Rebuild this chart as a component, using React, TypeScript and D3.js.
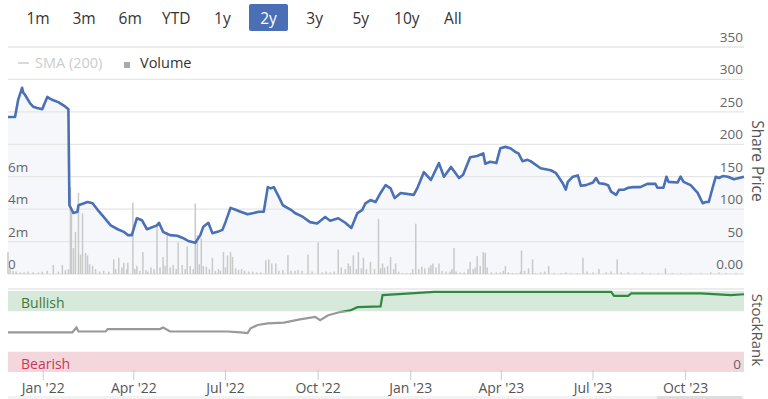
import * as d3 from "d3";
import React from "react";

const ranges = ["1m", "3m", "6m", "YTD", "1y", "2y", "3y", "5y", "10y", "All"];
const selectedRange = "2y";

const priceTicks = [0, 50, 100, 150, 200, 250, 300, 350];
const volumeTicks = [0, 2e6, 4e6, 6e6];
const dateTicks = ["2022-01-01", "2022-04-01", "2022-07-01", "2022-10-01", "2023-01-01", "2023-04-01", "2023-07-01", "2023-10-01"];

// share price
const priceDates = [
  "2021-11-27", "2021-12-04", "2021-12-07", "2021-12-11", "2021-12-12", "2021-12-14", "2021-12-19", "2021-12-22", "2021-12-26", "2021-12-31",
  "2022-01-05", "2022-01-08", "2022-01-11", "2022-01-16", "2022-01-23", "2022-01-26", "2022-01-27", "2022-01-31", "2022-02-04", "2022-02-05",
  "2022-02-14", "2022-02-19", "2022-02-24", "2022-03-02", "2022-03-09", "2022-03-16", "2022-03-22", "2022-03-26", "2022-03-30", "2022-04-04",
  "2022-04-09", "2022-04-14", "2022-04-24", "2022-04-26", "2022-04-30", "2022-05-07", "2022-05-14", "2022-05-19", "2022-05-25", "2022-05-30",
  "2022-06-01", "2022-06-06", "2022-06-09", "2022-06-14", "2022-06-18", "2022-06-23", "2022-06-28", "2022-07-01", "2022-07-06", "2022-07-11",
  "2022-07-16", "2022-07-23", "2022-07-29", "2022-08-03", "2022-08-08", "2022-08-12", "2022-08-15", "2022-08-18", "2022-08-22", "2022-08-27",
  "2022-09-04", "2022-09-08", "2022-09-16", "2022-09-23", "2022-09-30", "2022-10-08", "2022-10-13", "2022-10-21", "2022-10-28", "2022-11-03",
  "2022-11-09", "2022-11-14", "2022-11-17", "2022-11-22", "2022-11-27", "2022-12-02", "2022-12-07", "2022-12-12", "2022-12-16", "2022-12-22",
  "2023-01-04", "2023-01-08", "2023-01-14", "2023-01-21", "2023-01-29", "2023-02-03", "2023-02-10", "2023-02-18", "2023-02-22", "2023-03-01",
  "2023-03-08", "2023-03-14", "2023-03-16", "2023-03-21", "2023-03-27", "2023-03-31", "2023-04-05", "2023-04-10", "2023-04-15", "2023-04-18",
  "2023-04-22", "2023-04-27", "2023-04-30", "2023-05-10", "2023-05-20", "2023-05-25", "2023-06-01", "2023-06-04", "2023-06-06", "2023-06-11",
  "2023-06-16", "2023-06-19", "2023-06-24", "2023-07-01", "2023-07-04", "2023-07-07", "2023-07-12", "2023-07-16", "2023-07-19", "2023-07-24",
  "2023-07-27", "2023-08-01", "2023-08-05", "2023-08-10", "2023-08-17", "2023-08-24", "2023-09-01", "2023-09-03", "2023-09-09", "2023-09-12",
  "2023-09-14", "2023-09-23", "2023-09-26", "2023-09-29", "2023-10-06", "2023-10-13", "2023-10-18", "2023-10-21", "2023-10-24", "2023-10-28",
  "2023-10-31", "2023-11-03", "2023-11-07", "2023-11-12", "2023-11-18", "2023-11-23", "2023-11-28",
];
const priceValues = [
  242, 242, 268, 287, 280, 276, 263, 258, 256, 254,
  273, 270, 268, 265, 258, 254, 106, 94, 96, 106,
  111, 109, 99, 88, 75, 69, 65, 60, 60, 86,
  83, 69, 75, 79, 65, 60, 59, 56, 51, 49,
  48, 60, 73, 79, 63, 65, 68, 80, 102, 99,
  96, 92, 94, 96, 96, 134, 132, 134, 122, 106,
  99, 94, 88, 80, 78, 88, 82, 86, 79, 71,
  94, 99, 109, 114, 111, 125, 137, 132, 117, 125,
  122, 134, 157, 145, 171, 150, 165, 148, 153, 180,
  182, 186, 170, 173, 171, 194, 196, 194, 188, 186,
  174, 176, 174, 163, 160, 156, 140, 130, 142, 150,
  152, 136, 137, 141, 148, 140, 139, 137, 127, 122,
  130, 130, 133, 134, 134, 139, 139, 133, 133, 150,
  142, 141, 150, 142, 137, 125, 109, 111, 111, 134,
  150, 148, 151, 150, 146, 148, 150,
];

// daily volume spikes (millions of shares)
const volumeDates = [
  "2021-11-27", "2021-11-29", "2021-12-02", "2021-12-05", "2021-12-09", "2021-12-13", "2021-12-17", "2021-12-22", "2021-12-27", "2021-12-31",
  "2022-01-05", "2022-01-11", "2022-01-16", "2022-01-20", "2022-01-23", "2022-01-26", "2022-01-28", "2022-01-29", "2022-01-31", "2022-02-02",
  "2022-02-05", "2022-02-07", "2022-02-09", "2022-02-12", "2022-02-14", "2022-02-16", "2022-02-19", "2022-02-22", "2022-02-26", "2022-03-02",
  "2022-03-07", "2022-03-12", "2022-03-14", "2022-03-17", "2022-03-20", "2022-03-22", "2022-03-25", "2022-03-26", "2022-03-31", "2022-04-02",
  "2022-04-04", "2022-04-07", "2022-04-10", "2022-04-13", "2022-04-15", "2022-04-18", "2022-04-21", "2022-04-24", "2022-04-27", "2022-04-30",
  "2022-05-02", "2022-05-04", "2022-05-07", "2022-05-10", "2022-05-13", "2022-05-15", "2022-05-19", "2022-05-22", "2022-05-24", "2022-05-27",
  "2022-05-30", "2022-06-01", "2022-06-03", "2022-06-05", "2022-06-07", "2022-06-09", "2022-06-12", "2022-06-15", "2022-06-18", "2022-06-21",
  "2022-06-24", "2022-06-26", "2022-06-29", "2022-07-01", "2022-07-03", "2022-07-06", "2022-07-08", "2022-07-11", "2022-07-14", "2022-07-17",
  "2022-07-20", "2022-07-24", "2022-07-28", "2022-08-01", "2022-08-05", "2022-08-10", "2022-08-13", "2022-08-16", "2022-08-20", "2022-08-23",
  "2022-08-27", "2022-09-01", "2022-09-04", "2022-09-08", "2022-09-11", "2022-09-15", "2022-09-21", "2022-09-25", "2022-10-01", "2022-10-05",
  "2022-10-09", "2022-10-13", "2022-10-17", "2022-10-21", "2022-10-24", "2022-10-28", "2022-10-31", "2022-11-02", "2022-11-05", "2022-11-08",
  "2022-11-10", "2022-11-13", "2022-11-15", "2022-11-18", "2022-11-22", "2022-11-26", "2022-11-30", "2022-12-02", "2022-12-04", "2022-12-06",
  "2022-12-09", "2022-12-12", "2022-12-15", "2022-12-17", "2022-12-20", "2022-12-24", "2022-12-28", "2023-01-01", "2023-01-03", "2023-01-06",
  "2023-01-09", "2023-01-12", "2023-01-15", "2023-01-19", "2023-01-21", "2023-01-23", "2023-01-26", "2023-01-29", "2023-02-01", "2023-02-05",
  "2023-02-09", "2023-02-11", "2023-02-13", "2023-02-15", "2023-02-19", "2023-02-23", "2023-02-27", "2023-03-01", "2023-03-04", "2023-03-06",
  "2023-03-08", "2023-03-11", "2023-03-14", "2023-03-16", "2023-03-18", "2023-03-22", "2023-03-27", "2023-03-31", "2023-04-03", "2023-04-05",
  "2023-04-08", "2023-04-12", "2023-04-16", "2023-04-20", "2023-04-21", "2023-04-24", "2023-04-28", "2023-05-02", "2023-05-05", "2023-05-10",
  "2023-05-14", "2023-05-18", "2023-05-23", "2023-05-30", "2023-06-04", "2023-06-09", "2023-06-15", "2023-06-21", "2023-06-25", "2023-07-01",
  "2023-07-07", "2023-07-14", "2023-07-19", "2023-07-25", "2023-07-29", "2023-08-05", "2023-08-12", "2023-08-19", "2023-08-27", "2023-09-04",
  "2023-09-11", "2023-09-18", "2023-09-26", "2023-10-06", "2023-10-16", "2023-10-26", "2023-11-03", "2023-11-10", "2023-11-20",
];
const volumeValues = [
  1.35, 0.3, 0.2, 0.15, 0.1, 0.1, 0.15, 0.1, 0.1, 0.15,
  0.2, 0.55, 0.15, 0.55, 0.25, 0.3, 5.35, 3.8, 1.6, 2.6,
  5.0, 1.2, 3.75, 1.3, 1.15, 0.6, 0.5, 0.3, 0.15, 0.2,
  0.15, 0.9, 0.3, 1.0, 0.4, 0.7, 0.3, 0.7, 4.4, 0.3,
  0.5, 0.2, 1.35, 0.25, 0.15, 0.4, 0.3, 3.1, 0.4, 1.05,
  0.5, 2.6, 0.4, 0.55, 0.3, 1.95, 0.55, 0.3, 1.7, 0.5,
  0.3, 4.35, 2.4, 0.6, 2.2, 0.5, 0.45, 0.3, 1.0, 0.2,
  0.3, 0.2, 1.35, 0.4, 1.15, 1.35, 1.05, 0.35, 0.25, 0.3,
  0.2, 0.15, 0.15, 0.1, 0.1, 0.85, 0.9, 0.65, 0.65, 0.2,
  0.25, 1.15, 0.2, 0.2, 0.25, 0.2, 1.2, 0.15, 1.95, 0.1,
  0.15, 0.1, 0.15, 1.5, 0.4, 0.3, 0.65, 0.5, 1.15, 0.3,
  1.35, 0.35, 1.0, 0.3, 0.75, 0.3, 3.4, 0.35, 0.65, 0.4,
  0.5, 1.05, 0.3, 0.65, 0.15, 0.05, 0.05, 0.05, 0.3, 3.1,
  0.3, 0.45, 0.35, 0.4, 0.55, 0.65, 0.4, 0.65, 0.2, 0.15,
  0.15, 0.3, 1.6, 0.15, 0.1, 0.1, 0.3, 0.75, 0.3, 0.4,
  1.1, 0.5, 1.35, 1.3, 0.4, 0.1, 0.1, 0.1, 0.2, 0.5,
  0.1, 0.05, 0.05, 0.15, 1.45, 0.2, 0.35, 0.9, 0.05, 0.1,
  0.15, 0.5, 0.05, 0.05, 0.1, 0.05, 0.05, 1.0, 0.15, 0.1,
  0.3, 0.1, 0.15, 0.9, 0.1, 0.1, 0.05, 0.1, 0.05, 0.05,
  0.35, 0.05, 0.05, 0.05, 0.05, 0.1, 0.1, 0.05, 0.05,
];

// StockRank
const rankDates = [
  "2021-11-27", "2022-01-30", "2022-02-03", "2022-02-05", "2022-03-04", "2022-03-06", "2022-04-27", "2022-04-30", "2022-05-07", "2022-07-03",
  "2022-07-16", "2022-07-23", "2022-07-26", "2022-08-02", "2022-08-12", "2022-08-28", "2022-09-13", "2022-09-28", "2022-10-03", "2022-10-11",
  "2022-10-23", "2022-11-02", "2022-11-09", "2022-12-02", "2022-12-04", "2023-01-01", "2023-01-24", "2023-07-19", "2023-07-22", "2023-08-05",
  "2023-08-08", "2023-10-16", "2023-11-15", "2023-11-28",
];
const rankValues = [
  49, 49, 55, 50, 50, 53, 53, 55, 50, 50,
  49, 48, 54, 58, 60, 61, 65, 68, 64, 70,
  74, 76, 80, 81, 95, 97, 99, 99, 94, 94,
  97, 97, 95, 96,
];

const bandBearish = [0, 25];
const bandBullish = [75, 100];

const W = 768;
const H = 399;
const left = 8;
const right = 744;
const pTop = 47;
const pBottom = 274;
const rTop = 291;
const rBottom = 372;

export default function App() {
  const parse = d3.timeParse("%Y-%m-%d");
  const x = d3.scaleTime().domain([parse("2021-11-27")!, parse("2023-11-28")!]).range([left, right]);
  const yPrice = d3.scaleLinear().domain([0, 350]).range([pBottom, pTop]);
  const yVol = d3.scaleLinear().domain([0, 14e6]).range([pBottom, pTop]);
  const yRank = d3.scaleLinear().domain([0, 100]).range([rBottom, rTop]);

  const price = priceDates.map((d, i) => ({ date: parse(d)!, v: priceValues[i] }));
  const vols = volumeDates.map((d, i) => ({ date: parse(d)!, v: volumeValues[i] * 1e6 }));
  const rank = rankDates.map((d, i) => ({ date: parse(d)!, v: rankValues[i] }));

  const line = d3.line<{ date: Date; v: number }>().x((d) => x(d.date)).y((d) => yPrice(d.v));
  const area = d3.area<{ date: Date; v: number }>().x((d) => x(d.date)).y0(pBottom).y1((d) => yPrice(d.v));
  const rankLine = d3.line<{ date: Date; v: number }>().x((d) => x(d.date)).y((d) => yRank(d.v));

  const font = "'Open Sans', 'DejaVu Sans', sans-serif";
  const grid = "#e6e6e6";
  const tickTxt = "#666";
  const threshold = yRank(bandBullish[0]);

  return (
    <div style={{ position: "absolute", left: 0, top: 0 }}>
      <svg width={W} height={H} style={{ display: "block", fontFamily: font }}>
        <defs>
          <clipPath id="above">
            <rect x={0} y={0} width={W} height={threshold} />
          </clipPath>
          <clipPath id="below">
            <rect x={0} y={threshold} width={W} height={H} />
          </clipPath>
        </defs>

        {/* range buttons */}
        {ranges.map((r, i) => {
          const cx = 38 + i * 46.1;
          const sel = r === selectedRange;
          return (
            <g key={r}>
              {sel && <rect x={cx - 19.5} y={4} width={39} height={27} rx={2} fill="#4a6fb5" />}
              <text x={cx} y={23.5} textAnchor="middle" fontSize={15.5} fill={sel ? "#fff" : "#333"}>
                {r}
              </text>
            </g>
          );
        })}

        {/* legend */}
        <line x1={18} x2={29} y1={63} y2={63} stroke="#ccc" strokeWidth={1.5} />
        <text x={35} y={68} fontSize={14.5} fill="#ccc">SMA (200)</text>
        <rect x={124} y={62} width={6} height={6} fill="#aaa" />
        <text x={140} y={68} fontSize={14.5} fill="#333">Volume</text>

        {/* price area + grid */}
        <path d={area(price)!} fill="#f5f7fb" />
        {priceTicks.map((t) => (
          <g key={t}>
            <line x1={left} x2={right} y1={yPrice(t)} y2={yPrice(t)} stroke={grid} strokeWidth={1.3} />
            <text x={right - 1} y={yPrice(t) - 5} textAnchor="end" fontSize={13.5} fill={tickTxt}>
              {t === 0 ? "0.00" : t}
            </text>
          </g>
        ))}
        {volumeTicks.map((t) => (
          <text key={t} x={left} y={yVol(t) - 5} fontSize={13.5} fill={tickTxt}>
            {t === 0 ? "0" : `${t / 1e6}m`}
          </text>
        ))}

        {/* volume */}
        {vols.map((d, i) => (
          <rect key={i} x={x(d.date) - 0.75} y={yVol(d.v)} width={1.5} height={pBottom - yVol(d.v)} fill="#c9c9c9" />
        ))}

        <path d={line(price)!} fill="none" stroke="#4a70b6" strokeWidth={2.6} strokeLinejoin="round" />

        <text transform={`translate(752,161) rotate(90)`} textAnchor="middle" fontSize={15.5} fill="#555">
          Share Price
        </text>

        {/* stockrank panel */}
        <line x1={left} x2={right} y1={289} y2={289} stroke={grid} strokeWidth={1.3} />
        <rect x={left} y={yRank(bandBullish[1])} width={right - left} height={yRank(bandBullish[0]) - yRank(bandBullish[1])} fill="#d6e9da" />
        <rect x={left} y={yRank(bandBearish[1])} width={right - left} height={yRank(bandBearish[0]) - yRank(bandBearish[1])} fill="#f4d7dc" />
        <text x={21} y={308} fontSize={14} fill="#3d7a3d">Bullish</text>
        <text x={21} y={369} fontSize={14} fill="#c8385a">Bearish</text>
        <text x={right - 3} y={369} textAnchor="end" fontSize={13.5} fill={tickTxt}>0</text>

        <path d={rankLine(rank)!} fill="none" stroke="#999" strokeWidth={2.2} clipPath="url(#below)" />
        <path d={rankLine(rank)!} fill="none" stroke="#2f8a3f" strokeWidth={2.2} clipPath="url(#above)" />

        <text transform={`translate(752,330) rotate(90)`} textAnchor="middle" fontSize={15} fill="#555">
          StockRank
        </text>

        {/* date axis */}
        {dateTicks.map((d) => {
          const tx = x(parse(d)!);
          return (
            <g key={d}>
              <line x1={tx} x2={tx} y1={370} y2={380} stroke="#ccc" />
              <text x={tx} y={393} textAnchor="middle" fontSize={14} fill="#555">
                {d3.timeFormat("%b '%y")(parse(d)!)}
              </text>
            </g>
          );
        })}

        {/* navigator scrollbar edge */}
        <rect x={left} y={396} width={right - left} height={3} fill="#f2f2f2" />
        <rect x={657} y={396} width={85} height={3} fill="#ddd" />
      </svg>
    </div>
  );
}
